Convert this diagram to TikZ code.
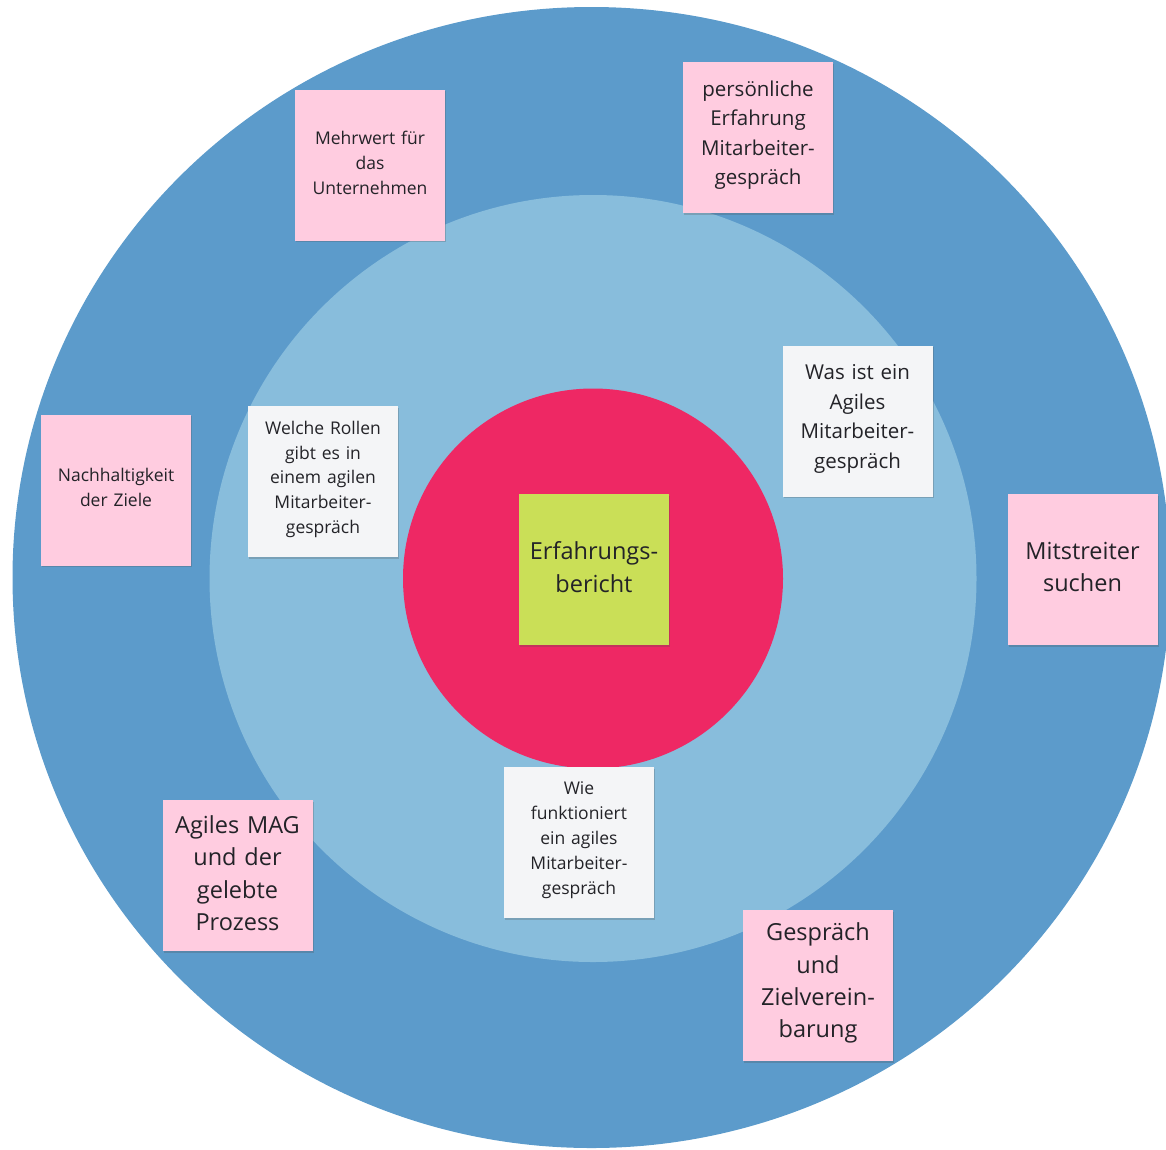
\documentclass[tikz,border=0pt]{standalone}
\usepackage{fontspec}
\setmainfont{Open Sans}
\usetikzlibrary{shadows}
\definecolor{outerblue}{RGB}{92,155,203}
\definecolor{innerblue}{RGB}{136,189,220}
\definecolor{corered}{RGB}{238,40,100}
\definecolor{notepink}{RGB}{255,204,224}
\definecolor{notewhite}{RGB}{244,245,247}
\definecolor{notegreen}{RGB}{202,223,87}
\definecolor{textdark}{RGB}{35,35,40}
\tikzset{
  note/.style={minimum width=150pt, minimum height=151pt, inner sep=0pt,
    text width=146pt, align=center, text=textdark,
    execute at end node={\par\vspace*{4.5pt}},
    drop shadow={shadow xshift=1.2pt, shadow yshift=-1.5pt, opacity=0.25, fill=black!70}},
  pinknote/.style={note, fill=notepink},
  whitenote/.style={note, fill=notewhite},
  greennote/.style={note, fill=notegreen},
  smalltxt/.style={font=\fontsize{17.5}{24.8}\selectfont},
  mediumtxt/.style={font=\fontsize{20.5}{29.6}\selectfont},
  largetxt/.style={font=\fontsize{23.5}{32.4}\selectfont},
}
\begin{document}
\begin{tikzpicture}[x=1pt,y=-1pt]
\useasboundingbox (0,0) rectangle (1166,1149);
% rings
\fill[outerblue] (591.5,577.5) ellipse [x radius=579, y radius=570.5];
\fill[innerblue] (593,578.5) circle [radius=383.5];
\fill[corered] (593,578.5) circle [radius=190];
% notes
\node[pinknote, smalltxt] (mehrwert) at (370,165) {Mehrwert für\\das\\Unternehmen};
\node[pinknote, mediumtxt] (persoenlich) at (758,137.5) {persönliche\\Erfahrung\\Mitarbeiter-\\gespräch};
\node[pinknote, smalltxt] (nachhaltig) at (116,490) {Nachhaltigkeit\\der Ziele};
\node[whitenote, smalltxt] (rollen) at (323,481.5) {Welche Rollen\\gibt es in\\einem agilen\\Mitarbeiter-\\gespräch};
\node[whitenote, mediumtxt] (wasist) at (857.5,421) {Was ist ein\\Agiles\\Mitarbeiter-\\gespräch};
\node[greennote, largetxt] (bericht) at (594,569.5) {Erfahrungs-\\bericht};
\node[pinknote, largetxt] (mitstreiter) at (1082.5,569.5) {Mitstreiter\\suchen};
\node[pinknote, largetxt] (agiles) at (237.5,875.5) {Agiles MAG\\und der\\gelebte\\Prozess};
\node[whitenote, smalltxt] (wie) at (579,842.5) {Wie\\funktioniert\\ein agiles\\Mitarbeiter-\\gespräch};
\node[pinknote, largetxt] (gespraech) at (818,985.5) {Gespräch\\und\\Zielverein-\\barung};
\end{tikzpicture}
\end{document}
